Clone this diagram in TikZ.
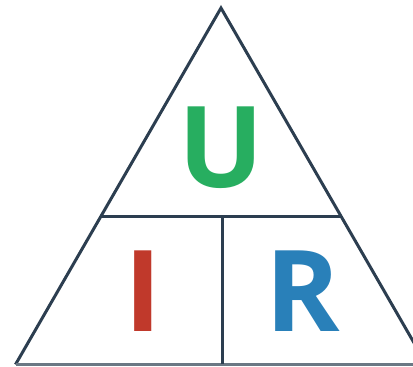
\documentclass[tikz,border=0pt]{standalone}
\usepackage{fontspec}
\setmainfont{Open Sans}
\definecolor{edge}{HTML}{2C3E50}
\definecolor{ugreen}{HTML}{27AE60}
\definecolor{ired}{HTML}{C0392B}
\definecolor{rblue}{HTML}{2980B9}
\begin{document}
\begin{tikzpicture}[x=1pt,y=1pt,
  edgeline/.style={draw=edge,line width=3pt},
  letter/.style={anchor=base,inner sep=0pt,font=\fontsize{113}{113}\selectfont\bfseries}]
\useasboundingbox (0,0) rectangle (413,367);
\clip (0,0) rectangle (413,367);
\coordinate (apex) at (221,359);
\coordinate (bl) at (15.5,2.5);
\coordinate (br) at (426.5,2.5);
\coordinate (ml) at (102,150);
\coordinate (mr) at (340,150);
\coordinate (mid) at (222,150);
\coordinate (midb) at (222,2.5);
\draw[edgeline,line join=miter] (bl) -- (apex) -- (br);
\draw[edgeline,draw=edge!70] (bl) -- (br);
\draw[edgeline] (ml) -- (mr);
\draw[edgeline] (mid) -- (midb);
\node[letter,text=ugreen] (u) at (221.5,179) {U};
\node[letter,text=ired] (i) at (143,35) {I};
\node[letter,text=rblue] (r) at (303,35) {R};
\end{tikzpicture}
\end{document}
